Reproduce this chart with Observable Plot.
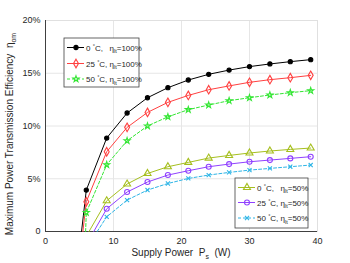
<!DOCTYPE html>
<html><head><meta charset="utf-8">
<script src="https://cdn.jsdelivr.net/npm/d3@7"></script>
<script src="https://cdn.jsdelivr.net/npm/@observablehq/plot@0.6"></script>
<style>body{margin:0;background:#fff}svg{font-family:"Liberation Sans",Arial,sans-serif}</style>
</head><body><div id="chart"></div>
<script>
const supplyPower = [6, 9, 12, 15, 18, 21, 24, 27, 30, 33, 36, 39];
const zeroCrossing = [5.3, 5.5, 5.9, 6.4, 7.1, 7.6];
const eff0C100 = [3.93, 8.86, 11.23, 12.68, 13.63, 14.36, 14.9, 15.3, 15.63, 15.88, 16.1, 16.29];
const eff25C100 = [2.82, 7.56, 9.87, 11.29, 12.24, 12.9, 13.44, 13.8, 14.14, 14.39, 14.58, 14.8];
const eff50C100 = [1.8, 6.33, 8.6, 10.0, 10.87, 11.55, 11.99, 12.4, 12.68, 12.94, 13.16, 13.35];
const eff0C50 = [null, 2.91, 4.5, 5.5, 6.14, 6.55, 6.96, 7.21, 7.44, 7.63, 7.78, 7.91];
const eff25C50 = [null, 2.15, 3.74, 4.69, 5.35, 5.76, 6.14, 6.39, 6.61, 6.77, 6.93, 7.09];
const eff50C50 = [null, 1.39, 2.98, 3.93, 4.55, 5.03, 5.35, 5.6, 5.82, 5.98, 6.14, 6.3];
const temps = ["0", "25", "50", "0", "25", "50"];
const etaLabels = ["100%", "100%", "100%", "50%", "50%", "50%"];
const xTicks = [0, 10, 20, 30, 40];
const yTicks = [0, 5, 10, 15, 20];
const yTickLabels = ["0", "5%", "10%", "15%", "20%"];

const seriesValues = [eff0C100, eff25C100, eff50C100, eff0C50, eff25C50, eff50C50];
const styles = [
  {color: "#000000", symbol: "circle", fill: "#000000", dash: null, r: 2.1},
  {color: "#ff4040", symbol: "diamond", fill: "none", dash: null, r: 2.6},
  {color: "#33e633", symbol: "star", fill: "none", dash: "3,2", r: 1.9},
  {color: "#a6bf1f", symbol: "triangle", fill: "none", dash: null, r: 2.6},
  {color: "#9040ff", symbol: "circle", fill: "none", dash: null, r: 2.5},
  {color: "#2eb5e6", symbol: "times", fill: "none", dash: "3,2", r: 2.0}
];

const lineData = [], dotData = [];
seriesValues.forEach((vals, i) => {
  lineData.push({s: i, x: zeroCrossing[i], y: 0});
  vals.forEach((v, j) => {
    if (v == null) return;
    lineData.push({s: i, x: supplyPower[j], y: v});
    dotData.push({s: i, x: supplyPower[j], y: v});
  });
});

const marks = [
  Plot.gridX(xTicks, {stroke: "#e6e6e6", strokeOpacity: 1}),
  Plot.gridY(yTicks, {stroke: "#e6e6e6", strokeOpacity: 1}),
  Plot.frame({stroke: "#e0e0e0"}),
  Plot.axisX({ticks: xTicks, tickSize: 0, tickPadding: 6, fontSize: 9, color: "#262626", label: null}),
  Plot.axisY({ticks: yTicks, tickSize: 0, tickPadding: 5, fontSize: 9, color: "#262626", label: null, tickFormat: (d) => yTickLabels[yTicks.indexOf(d)]}),
  Plot.ruleY([0], {stroke: "#404040"}),
  Plot.ruleX([0], {stroke: "#404040"})
];
styles.forEach((st, i) => {
  marks.push(Plot.line(lineData.filter(d => d.s === i), {x: "x", y: "y", stroke: st.color, strokeWidth: 1, strokeDasharray: st.dash}));
  marks.push(Plot.dot(dotData.filter(d => d.s === i), {x: "x", y: "y", symbol: () => st.symbol, r: st.r, stroke: st.color, fill: st.fill, strokeWidth: 1.1}));
});

const chart = Plot.plot({
  width: 350, height: 263,
  marginLeft: 45, marginRight: 33, marginTop: 20, marginBottom: 32,
  x: {domain: [0, 40]},
  y: {domain: [0, 20]},
  style: {fontFamily: '"Liberation Sans", Arial, sans-serif', background: "#fff"},
  marks
});
document.getElementById("chart").appendChild(chart);

const svg = d3.select(chart);
// axis labels
const xl = svg.append("text").attr("x", 181).attr("y", 256).attr("text-anchor", "middle").attr("font-size", "10px").attr("fill", "#262626");
xl.append("tspan").text("Supply Power  P");
xl.append("tspan").attr("font-size", "7px").attr("dy", 3).text("s");
xl.append("tspan").attr("dy", -3).text("  (W)");
const yl = svg.append("text").attr("transform", "translate(13,134) rotate(-90)").attr("text-anchor", "middle").attr("font-size", "10px").attr("fill", "#262626");
yl.append("tspan").text("Maximum Power Transmission Efficiency  η");
yl.append("tspan").attr("font-size", "7px").attr("dy", 3).text("om");

// legends
function legend(x0, y0, w, h, rows, idx) {
  const g = svg.append("g").attr("text-anchor", "start");
  g.append("rect").attr("x", x0).attr("y", y0).attr("width", w).attr("height", h).attr("fill", "#fff").attr("stroke", "#404040").attr("stroke-width", 0.8);
  idx.forEach((si, k) => {
    const st = styles[si];
    const y = rows[k];
    g.append("line").attr("x1", x0 + 3).attr("x2", x0 + 20).attr("y1", y).attr("y2", y).attr("stroke", st.color).attr("stroke-dasharray", st.dash);
    const sym = {circle: d3.symbolCircle, diamond: d3.symbolDiamond, star: d3.symbolStar, triangle: d3.symbolTriangle, times: d3.symbolTimes}[st.symbol];
    g.append("path").attr("d", d3.symbol(sym, Math.PI * st.r * st.r)()).attr("transform", `translate(${x0 + 12},${y})`).attr("stroke", st.color).attr("fill", st.fill).attr("stroke-width", 1.1);
    const t = g.append("text").attr("x", x0 + 22).attr("y", y + 3).attr("font-size", "8px").attr("fill", "#262626").attr("text-anchor", "start").style("white-space", "pre");
    t.append("tspan").text(temps[si] + " ");
    t.append("tspan").attr("font-size", "5.5px").attr("dy", -3).text("°");
    t.append("tspan").attr("dy", 3).text(temps[si] === "0" ? "C,   η" : "C, η");
    t.append("tspan").attr("font-size", "5.5px").attr("dy", 2.5).text("lt");
    t.append("tspan").attr("dy", -2.5).text("=" + etaLabels[si]);
  });
}
legend(64, 38, 75, 49, [47.5, 63.5, 79], [0, 1, 2]);
legend(235, 178, 73, 50, [187.5, 202.5, 218], [3, 4, 5]);
</script></body></html>
